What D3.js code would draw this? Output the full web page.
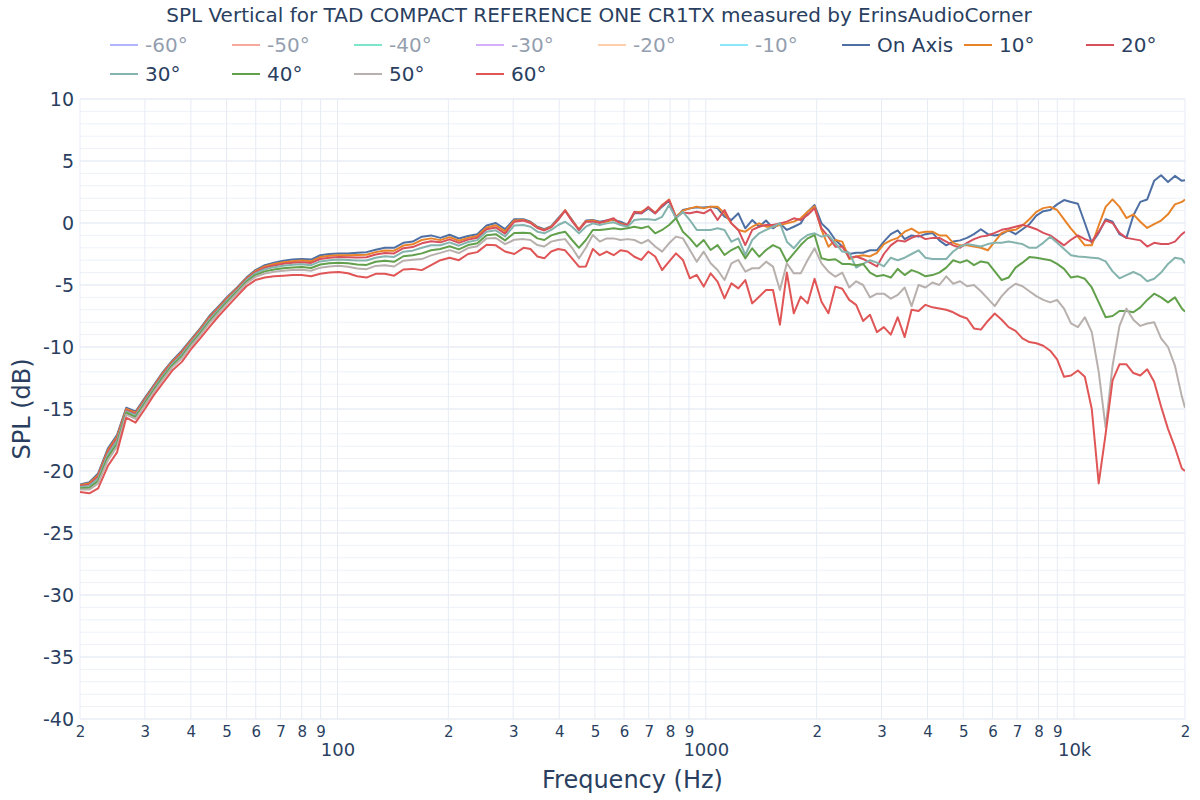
<!DOCTYPE html>
<html>
<head>
<meta charset="utf-8">
<script src="https://cdn.jsdelivr.net/npm/d3@7"></script>
<style>
  body { margin: 0; background: #fff; }
  svg text { font-family: "DejaVu Sans", Verdana, sans-serif; fill: #2a3f5f; }
</style>
</head>
<body>
<svg id="chart" width="1200" height="800"></svg>
<script>
// frequencies (Hz) shared by every curve
const freqs = [20, 21.2, 22.4, 23.8, 25.2, 26.7, 28.3, 30.0, 31.7, 33.6, 35.6, 37.8, 40, 42.4, 44.9, 47.6,
  50.4, 53.4, 56.6, 59.9, 63.5, 67.3, 71.3, 75.5, 80, 84.8, 89.8, 95.1, 100.8, 106.8, 113.1, 119.9,
  127.0, 134.5, 142.5, 151.0, 160, 169.5, 179.6, 190.3, 201.6, 213.6, 226.3, 239.7, 254.0, 269.1, 285.1, 302.0,
  320, 334.2, 349.0, 364.4, 380.5, 397.4, 415.0, 433.4, 452.5, 472.6, 493.5, 515.4, 538.2, 562.0, 586.9, 612.9,
  640, 668.3, 697.9, 728.8, 761.1, 794.8, 830.0, 866.7, 905.1, 945.2, 987.0, 1030.7, 1076.4, 1124.0, 1173.8, 1225.7,
  1280, 1336.7, 1395.9, 1457.6, 1522.2, 1589.6, 1659.9, 1733.5, 1810.2, 1890.3, 1974.0, 2061.4, 2152.7, 2248.0, 2347.5, 2451.5,
  2560, 2673, 2792, 2915, 3044, 3179, 3320, 3467, 3620, 3781, 3948, 4123, 4305, 4496, 4695, 4903,
  5120, 5347, 5583, 5831, 6089, 6358, 6640, 6934, 7241, 7561, 7896, 8246, 8611, 8992, 9390, 9806,
  10240, 10693, 11167, 11661, 12178, 12717, 13280, 13868, 14482, 15123, 15792, 16492, 17222, 17984, 18780, 19612, 20000];

const onAxis = [-21.1, -20.9, -20.2, -18.2, -17.1, -14.9, -15.2, -14.1, -13.1, -12.0, -11.1, -10.3, -9.4, -8.5, -7.5, -6.7,
  -5.9, -5.2, -4.4, -3.8, -3.4, -3.2, -3.05, -2.95, -2.9, -2.95, -2.6, -2.5, -2.45, -2.45, -2.4, -2.35,
  -2.15, -2.0, -2.0, -1.6, -1.5, -1.1, -1.0, -1.2, -0.95, -1.25, -1.05, -0.9, -0.2, 0.0, -0.5, 0.3,
  0.3, 0.1, -0.3, -0.5, -0.25, 0.38, 1.0, 0.25, -0.56, 0.2, 0.24, 0.1, 0.2, 0.24, 0.11, -0.16,
  0.78, 0.78, 1.18, 0.78, 1.32, 1.8, 0.38, 1.05, 1.18, 1.26, 1.26, 1.32, 1.18, 0.51, 0.24, 0.78,
  -0.43, 0.24, -0.3, 0.2, -0.43, -0.03, -0.56, -0.3, -0.03, 0.9, 1.45, -0.03, -0.56, -1.37, -1.9, -2.5,
  -2.4, -2.4, -2.2, -2.2, -1.5, -0.9, -0.6, -1.3, -1.0, -1.1, -0.9, -0.8, -1.4, -1.8, -1.5, -1.4,
  -1.2, -0.9, -0.5, -0.9, -1.0, -0.9, -0.6, -0.9, -0.5, -0.1, 0.6, 0.95, 1.05, 1.5, 1.85, 1.7,
  1.55, 0.0, -1.6, -0.8, 0.3, 0.1, -0.9, -1.2, 0.6, 1.7, 1.9, 3.4, 3.85, 3.3, 3.8, 3.4, 3.45];

const deg10 = [-21.16, -20.99, -20.32, -18.34, -17.24, -15.0, -15.3, -14.19, -13.18, -12.09, -11.18, -10.39, -9.48, -8.58, -7.59, -6.78,
  -5.98, -5.27, -4.47, -3.88, -3.5, -3.31, -3.17, -3.08, -3.03, -3.09, -2.75, -2.65, -2.6, -2.61, -2.59, -2.56,
  -2.35, -2.21, -2.23, -1.82, -1.72, -1.37, -1.24, -1.38, -1.14, -1.43, -1.2, -1.05, -0.36, -0.18, -0.68, 0.2,
  0.25, 0.05, -0.35, -0.55, -0.3, 0.3, 1.05, 0.2, -0.5, 0.15, 0.2, 0.05, 0.11, 0.3, -0.03, -0.16,
  0.85, 0.9, 1.25, 0.82, 1.45, 1.9, 0.5, 1.0, 1.18, 1.32, 1.18, 1.32, 1.32, 0.78, -0.03, -0.56,
  -0.7, -0.3, -0.03, -0.3, -0.3, -0.16, -0.03, 0.11, 0.38, 0.9, 1.35, -0.56, -1.91, -1.37, -1.5, -2.9,
  -2.7, -2.6, -2.7, -2.4, -1.7, -1.4, -1.2, -0.7, -0.45, -0.8, -0.7, -0.7, -1.0, -1.0, -1.6, -1.8,
  -1.8, -1.9, -2.0, -2.2, -1.5, -0.8, -0.6, -0.55, -0.2, 0.3, 0.9, 1.2, 1.3, 1.05, 0.3, -0.45,
  -1.1, -1.8, -1.8, -0.2, 1.3, 1.9, 1.3, 0.4, 0.7, 0.1, -0.4, -0.1, 0.2, 0.7, 1.5, 1.7, 1.9];

const deg20 = [-21.22, -21.08, -20.44, -18.48, -17.38, -15.1, -15.4, -14.28, -13.26, -12.18, -11.26, -10.48, -9.56, -8.66, -7.68, -6.86,
  -6.06, -5.34, -4.54, -3.96, -3.6, -3.42, -3.29, -3.2, -3.16, -3.22, -2.9, -2.8, -2.75, -2.77, -2.78, -2.76,
  -2.54, -2.42, -2.45, -2.03, -1.94, -1.64, -1.48, -1.56, -1.32, -1.6, -1.34, -1.19, -0.51, -0.36, -0.86, 0.1,
  0.2, 0.0, -0.4, -0.6, -0.35, 0.25, 1.0, 0.15, -0.55, 0.1, 0.11, 0.0, 0.2, 0.38, -0.1, -0.16,
  0.9, 0.78, 1.3, 0.78, 1.4, 1.85, 0.45, 0.85, 0.78, 0.9, 0.78, 1.1, 0.24, 1.05, -0.03, -0.56,
  -1.78, -0.56, -0.3, -0.16, -0.16, -0.03, 0.11, 0.38, 0.24, 0.65, 1.2, -0.43, -1.1, -1.91, -1.9, -2.8,
  -2.7, -2.9, -3.2, -3.5, -2.5, -1.8, -1.4, -1.5, -1.2, -1.0, -1.3, -1.2, -1.2, -1.5, -1.8, -2.0,
  -1.6, -1.3, -1.1, -1.0, -0.8, -0.55, -0.45, -0.3, -0.15, -0.3, -0.5, -0.8, -1.0, -1.4, -1.8, -1.35,
  -1.0, -1.3, -1.5, -0.7, 0.2, 0.0, -0.8, -1.2, -1.3, -1.4, -1.9, -1.6, -1.7, -1.7, -1.5, -0.9, -0.7];

const deg30 = [-21.3, -21.2, -20.6, -18.66, -17.56, -15.2, -15.5, -14.4, -13.36, -12.3, -11.36, -10.6, -9.66, -8.76, -7.8, -6.96,
  -6.16, -5.43, -4.63, -4.06, -3.73, -3.56, -3.45, -3.36, -3.33, -3.4, -3.1, -3.0, -2.95, -2.98, -3.03, -3.03,
  -2.8, -2.69, -2.74, -2.31, -2.23, -1.99, -1.79, -1.79, -1.56, -1.83, -1.53, -1.38, -0.71, -0.59, -1.09, -0.2,
  -0.16, -0.3, -0.7, -0.83, -0.56, -0.16, 0.1, -0.3, -0.83, -0.3, -0.03, -0.16, -0.03, 0.05, -0.16, -0.3,
  0.24, 0.3, 0.3, 0.24, 0.5, 1.45, 0.38, 0.9, 0.24, -0.56, -0.56, -0.56, -0.43, -0.56, -1.51, -1.24,
  -2.58, -1.37, -0.83, -0.56, -0.3, -0.03, -1.51, -2.04, -1.37, -0.97, -0.83, -1.1, -0.97, -1.64, -2.3, -2.4,
  -3.6, -3.3, -3.0, -3.2, -3.5, -2.8, -3.0, -2.8, -2.5, -2.2, -2.8, -2.9, -2.9, -2.9, -2.3, -1.9,
  -1.7, -1.8, -1.9, -1.7, -1.6, -1.6, -1.5, -1.6, -1.7, -2.0, -2.0, -1.6, -1.1, -1.6, -2.1, -2.6,
  -2.7, -2.75, -2.8, -2.85, -3.1, -3.9, -4.46, -4.2, -3.95, -4.2, -4.7, -4.5, -4.0, -3.3, -2.8, -2.9, -3.25];

const deg40 = [-21.4, -21.35, -20.8, -18.9, -17.8, -15.3, -15.65, -14.55, -13.5, -12.45, -11.5, -10.75, -9.8, -8.9, -7.95, -7.1,
  -6.3, -5.55, -4.75, -4.2, -3.9, -3.75, -3.65, -3.58, -3.55, -3.63, -3.35, -3.25, -3.2, -3.25, -3.35, -3.38,
  -3.13, -3.05, -3.13, -2.68, -2.6, -2.45, -2.2, -2.1, -1.88, -2.13, -1.78, -1.63, -0.98, -0.9, -1.4, -0.8,
  -0.78, -0.83, -1.24, -1.37, -1.0, -0.83, -0.7, -1.37, -2.0, -1.37, -0.56, -0.56, -0.5, -0.43, -0.5, -0.43,
  -0.3, -0.43, -0.27, -0.83, -0.56, -0.16, 0.38, -0.7, -1.24, -1.9, -1.37, -2.18, -1.78, -2.58, -2.18, -1.9,
  -2.85, -2.04, -2.72, -2.18, -1.78, -2.04, -3.12, -2.45, -1.78, -1.24, -0.97, -2.85, -2.98, -2.92, -3.3, -3.3,
  -3.4, -3.3, -4.0, -4.3, -4.2, -4.4, -3.7, -4.2, -3.8, -4.0, -4.3, -4.2, -4.0, -3.6, -3.0, -3.2,
  -3.0, -3.4, -3.1, -3.2, -3.9, -4.6, -4.4, -3.6, -3.2, -2.75, -2.8, -2.9, -3.0, -3.3, -3.7, -4.4,
  -4.3, -4.5, -5.2, -6.4, -7.6, -7.5, -7.1, -7.1, -7.2, -6.8, -6.2, -5.7, -6.0, -6.4, -6.0, -6.9, -7.15];

const deg50 = [-21.5, -21.5, -21.0, -19.14, -18.04, -15.45, -15.8, -14.7, -13.64, -12.6, -11.64, -10.9, -9.94, -9.04, -8.1, -7.24,
  -6.44, -5.67, -4.87, -4.34, -4.07, -3.94, -3.85, -3.79, -3.77, -3.85, -3.6, -3.5, -3.45, -3.52, -3.67, -3.72,
  -3.46, -3.41, -3.51, -3.04, -2.97, -2.91, -2.61, -2.41, -2.19, -2.42, -2.02, -1.87, -1.24, -1.21, -1.71, -1.35,
  -1.3, -1.37, -1.78, -1.9, -1.5, -1.37, -1.3, -2.0, -2.85, -2.0, -0.97, -1.5, -1.24, -1.24, -1.37, -1.3,
  -1.37, -1.64, -1.37, -1.9, -2.31, -1.64, -1.1, -1.24, -2.18, -3.12, -2.31, -3.25, -3.79, -4.6, -3.25, -2.98,
  -3.92, -3.65, -3.65, -3.12, -3.52, -5.4, -3.25, -4.06, -4.06, -2.98, -2.04, -3.25, -3.92, -4.33, -4.0, -5.2,
  -4.7, -5.0, -6.0, -5.7, -5.7, -6.1, -5.8, -5.2, -6.7, -5.0, -5.2, -4.8, -5.0, -4.3, -4.9, -4.7,
  -5.1, -5.0, -5.5, -6.1, -6.7, -5.9, -5.3, -4.9, -5.1, -5.5, -5.9, -6.2, -6.4, -6.2, -6.9, -8.1,
  -8.4, -7.6, -8.8, -12.0, -16.5, -11.5, -8.3, -6.9, -7.8, -8.3, -8.1, -8.0, -9.3, -10.0, -11.5, -14.0, -14.9];

const deg60 = [-21.7, -21.8, -21.4, -19.6, -18.5, -15.7, -16.1, -15.0, -13.9, -12.9, -11.9, -11.2, -10.2, -9.3, -8.4, -7.5,
  -6.7, -5.9, -5.1, -4.6, -4.4, -4.3, -4.25, -4.2, -4.2, -4.3, -4.1, -4.0, -3.95, -4.05, -4.3, -4.4,
  -4.1, -4.1, -4.25, -3.75, -3.7, -3.8, -3.4, -3.0, -2.8, -3.0, -2.5, -2.35, -1.75, -1.8, -2.3, -2.5,
  -2.0, -2.1, -2.7, -2.85, -2.3, -2.1, -2.2, -2.85, -3.52, -3.5, -2.1, -2.6, -2.3, -2.6, -2.2, -2.3,
  -2.72, -2.98, -2.3, -2.7, -3.79, -3.12, -2.45, -2.98, -4.46, -4.19, -5.13, -4.06, -4.73, -6.08, -4.87, -5.27,
  -4.6, -6.48, -5.94, -5.4, -5.4, -8.2, -4.0, -7.28, -5.94, -6.48, -4.5, -6.35, -7.28, -5.13, -5.3, -6.2,
  -6.6, -7.9, -7.4, -8.8, -8.4, -9.0, -7.6, -9.2, -7.0, -7.1, -6.6, -6.8, -6.9, -7.0, -7.2, -7.5,
  -7.7, -8.5, -8.6, -7.9, -7.3, -7.8, -8.4, -8.7, -9.3, -9.6, -9.7, -9.9, -10.3, -11.0, -12.4, -12.3,
  -11.9, -12.4, -15.0, -21.0, -17.0, -12.7, -11.4, -11.4, -12.1, -12.3, -11.8, -12.8, -14.8, -16.6, -18.1, -19.8, -20.0];

// legend entries (the negative angles are hidden traces)
const legendNames  = ["-60°", "-50°", "-40°", "-30°", "-20°", "-10°", "On Axis", "10°", "20°", "30°", "40°", "50°", "60°"];
const legendColors = ["#636efa", "#ef553b", "#00cc96", "#ab63fa", "#ffa15a", "#19d3f3",
                      "#4e6fa3", "#e8832a", "#d8505c", "#85b3ad", "#62a04c", "#b8b0ad", "#e05555"];
const legendHidden = [true, true, true, true, true, true, false, false, false, false, false, false, false];

// ticks
const yTicks = [10, 5, 0, -5, -10, -15, -20, -25, -30, -35, -40];
const xMinorTicks = [20, 30, 40, 50, 60, 70, 80, 90, 200, 300, 400, 500, 600, 700, 800, 900,
                     2000, 3000, 4000, 5000, 6000, 7000, 8000, 9000, 20000];
const xMinorLabels = ["2", "3", "4", "5", "6", "7", "8", "9", "2", "3", "4", "5", "6", "7", "8", "9",
                      "2", "3", "4", "5", "6", "7", "8", "9", "2"];
const xMajorTicks = [100, 1000, 10000];
const xMajorLabels = ["100", "1000", "10k"];

const visible = [
  { name: "On Axis", values: onAxis },
  { name: "10°", values: deg10 },
  { name: "20°", values: deg20 },
  { name: "30°", values: deg30 },
  { name: "40°", values: deg40 },
  { name: "50°", values: deg50 },
  { name: "60°", values: deg60 }
];

const margin = { left: 80, right: 15, top: 99, bottom: 81 };
const W = 1200, H = 800;
const svg = d3.select("#chart");

const x = d3.scaleLog().domain([20, 20000]).range([margin.left, W - margin.right]);
const y = d3.scaleLinear().domain([-40, 10]).range([H - margin.bottom, margin.top]);

const plotW = W - margin.right - margin.left;
const plotH = H - margin.bottom - margin.top;

// grid: minor y every 1 dB
const grid = svg.append("g");
grid.selectAll("line.ym")
  .data(d3.range(-40, 11, 1))
  .enter().append("line")
  .attr("x1", margin.left).attr("x2", W - margin.right)
  .attr("y1", d => y(d)).attr("y2", d => y(d))
  .attr("stroke", "#edf1f7").attr("stroke-width", 1);

grid.selectAll("line.xg")
  .data(xMinorTicks.concat(xMajorTicks))
  .enter().append("line")
  .attr("y1", margin.top).attr("y2", H - margin.bottom)
  .attr("x1", d => x(d)).attr("x2", d => x(d))
  .attr("stroke", "#e6ebf4").attr("stroke-width", 1);

grid.selectAll("line.yM")
  .data(yTicks)
  .enter().append("line")
  .attr("x1", margin.left).attr("x2", W - margin.right)
  .attr("y1", d => y(d)).attr("y2", d => y(d))
  .attr("stroke", "#e6ebf3").attr("stroke-width", 1);

// axes
const yAxis = svg.append("g")
  .attr("transform", `translate(${margin.left},0)`)
  .call(d3.axisLeft(y).tickValues(yTicks).tickSize(0).tickPadding(6).tickFormat(d => String(d)));
yAxis.select(".domain").remove();
yAxis.selectAll("text").style("font-size", "19px").attr("fill", "#2a3f5f");

const xMinorAxis = svg.append("g")
  .attr("transform", `translate(0,${H - margin.bottom})`)
  .call(d3.axisBottom(x).tickValues(xMinorTicks).tickSize(0).tickPadding(7)
        .tickFormat((d, i) => xMinorLabels[i]));
xMinorAxis.select(".domain").remove();
xMinorAxis.selectAll("text").style("font-size", "15px").attr("fill", "#2a3f5f");

const xMajorAxis = svg.append("g")
  .attr("transform", `translate(0,${H - margin.bottom})`)
  .call(d3.axisBottom(x).tickValues(xMajorTicks).tickSize(0).tickPadding(24)
        .tickFormat((d, i) => xMajorLabels[i]));
xMajorAxis.select(".domain").remove();
xMajorAxis.selectAll("text").style("font-size", "18px").attr("fill", "#2a3f5f");

// clip
svg.append("clipPath").attr("id", "plotclip")
  .append("rect").attr("x", margin.left).attr("y", margin.top)
  .attr("width", plotW).attr("height", plotH);

const line = d3.line()
  .x(d => x(d[0]))
  .y(d => y(d[1]));

const colorOf = name => legendColors[legendNames.indexOf(name)];

svg.append("g").attr("clip-path", "url(#plotclip)")
  .selectAll("path")
  .data(visible)
  .enter().append("path")
  .attr("fill", "none")
  .attr("stroke", d => colorOf(d.name))
  .attr("stroke-width", 2)
  .attr("stroke-linejoin", "round")
  .attr("d", d => line(d.values.map((v, i) => [freqs[i], v]).filter(p => p[0] !== undefined)));

// title
svg.append("text")
  .attr("x", 599).attr("y", 22)
  .attr("text-anchor", "middle")
  .style("font-size", "20px")
  .text("SPL Vertical for TAD COMPACT REFERENCE ONE CR1TX measured by ErinsAudioCorner");

// axis titles
svg.append("text")
  .attr("x", margin.left + plotW / 2).attr("y", 788)
  .attr("text-anchor", "middle")
  .style("font-size", "24px")
  .text("Frequency (Hz)");

svg.append("text")
  .attr("transform", `translate(30,${margin.top + plotH / 2}) rotate(-90)`)
  .attr("text-anchor", "middle")
  .style("font-size", "24px")
  .text("SPL (dB)");

// legend
const perRow = 9;
const legend = svg.append("g");
const items = legend.selectAll("g")
  .data(legendNames)
  .enter().append("g")
  .attr("transform", (d, i) => `translate(${105 + (i % perRow) * 122},${45 + Math.floor(i / perRow) * 29})`)
  .attr("opacity", (d, i) => legendHidden[i] ? 0.5 : 1);

items.append("line")
  .attr("x1", 5).attr("x2", 33).attr("y1", 0).attr("y2", 0)
  .attr("stroke", (d, i) => legendColors[i]).attr("stroke-width", 2);

items.append("text")
  .attr("x", 40).attr("dy", "0.35em")
  .style("font-size", "20px")
  .text(d => d);
</script>
</body>
</html>
